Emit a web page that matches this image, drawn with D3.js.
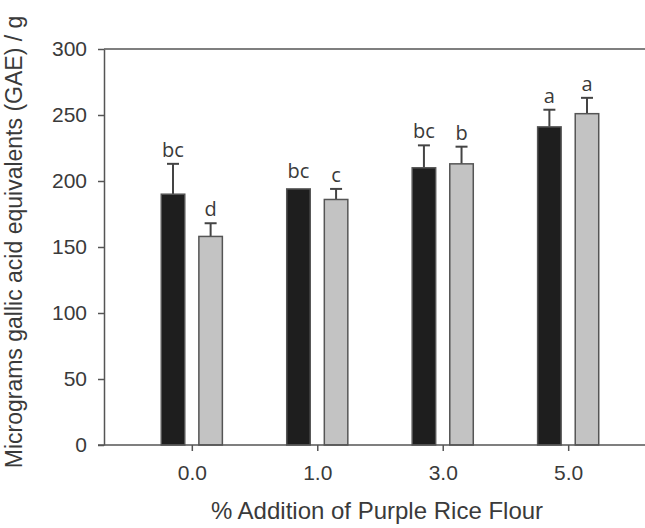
<!DOCTYPE html>
<html>
<head>
<meta charset="utf-8">
<script src="https://cdn.jsdelivr.net/npm/d3@7"></script>
<style>
  body { margin: 0; background: #fff; }
  svg { display: block; }
  text { font-family: "Liberation Sans", Arial, sans-serif; fill: #3a3a3a; }
  .sig { font-family: "Open Sans", sans-serif; }
</style>
</head>
<body>
<svg width="645" height="528"></svg>
<script>
const categories = ['0.0', '1.0', '3.0', '5.0'];
const seriesA = [190, 194, 210, 241];      // black bars
const seriesB = [158, 186, 213, 251];      // grey bars
const errA = [23, 0, 17, 13];
const errB = [10, 8, 13, 12];
const lettersA = ['bc', 'bc', 'bc', 'a'];
const lettersB = ['d', 'c', 'b', 'a'];
const yTicks = [0, 50, 100, 150, 200, 250, 300];

const svg = d3.select('svg');

const x = d3.scalePoint().domain(categories).range([104, 656]).padding(0.7);
const y = d3.scaleLinear().domain([0, 300]).range([445, 49]);

const barW = 23.5, offset = 18.8;

const series = [
  { vals: seriesA, errs: errA, letters: lettersA, fill: '#1e1e1e', dx: -offset },
  { vals: seriesB, errs: errB, letters: lettersB, fill: '#c3c3c3', dx: offset }
];

// frame: top line
svg.append('line')
  .attr('x1', 104).attr('x2', 645).attr('y1', y(300)).attr('y2', y(300))
  .attr('stroke', '#555').attr('stroke-width', 1.5);

series.forEach(s => {
  const g = svg.append('g');
  const rows = categories.map((c, i) => ({ c, v: s.vals[i], e: s.errs[i], l: s.letters[i] }));

  // error bars (upper only)
  g.selectAll('.err').data(rows.filter(d => d.e > 0)).enter()
    .append('line').classed('err', true)
    .attr('x1', d => x(d.c) + s.dx).attr('x2', d => x(d.c) + s.dx)
    .attr('y1', d => y(d.v)).attr('y2', d => y(d.v + d.e))
    .attr('stroke', '#444').attr('stroke-width', 2);
  g.selectAll('.cap').data(rows.filter(d => d.e > 0)).enter()
    .append('line').classed('cap', true)
    .attr('x1', d => x(d.c) + s.dx - 6).attr('x2', d => x(d.c) + s.dx + 6)
    .attr('y1', d => y(d.v + d.e)).attr('y2', d => y(d.v + d.e))
    .attr('stroke', '#444').attr('stroke-width', 2);

  g.selectAll('.bar').data(rows).enter()
    .append('rect').classed('bar', true)
    .attr('x', d => x(d.c) + s.dx - barW / 2)
    .attr('width', barW)
    .attr('y', d => y(d.v))
    .attr('height', d => y(0) - y(d.v))
    .attr('fill', s.fill)
    .attr('stroke', '#555').attr('stroke-width', 1.5);

  g.selectAll('.sig').data(rows).enter()
    .append('text').classed('sig', true)
    .attr('x', d => x(d.c) + s.dx)
    .attr('y', d => y(d.v + d.e) - (d.e > 0 ? 7 : 11))
    .attr('text-anchor', 'middle')
    .attr('font-size', 20)
    .text(d => d.l);
});

// y axis
const yAxis = svg.append('g')
  .attr('transform', 'translate(104,0)')
  .call(d3.axisLeft(y).tickValues(yTicks).tickSize(6).tickPadding(11).tickSizeOuter(0));
yAxis.select('.domain').attr('stroke', '#555').attr('stroke-width', 1.5);
yAxis.selectAll('.tick line').attr('stroke', '#555').attr('stroke-width', 1.5);
yAxis.selectAll('.tick text').attr('font-size', 21).attr('fill', '#3a3a3a')
  .style('font-family', '"Liberation Sans", Arial, sans-serif');

// x axis
const xAxis = svg.append('g')
  .attr('transform', `translate(0,${y(0)})`)
  .call(d3.axisBottom(x).tickSize(6).tickPadding(14).tickSizeOuter(0));
xAxis.select('.domain').attr('d', 'M98,0H645').attr('stroke', '#555').attr('stroke-width', 1.5);
xAxis.selectAll('.tick line').attr('stroke', '#555').attr('stroke-width', 1.5);
xAxis.selectAll('.tick text').attr('font-size', 21).attr('fill', '#3a3a3a')
  .style('font-family', '"Liberation Sans", Arial, sans-serif');

// titles
svg.append('text')
  .attr('x', 377).attr('y', 519)
  .attr('text-anchor', 'middle')
  .attr('font-size', 24)
  .text('% Addition of Purple Rice Flour');

svg.append('text')
  .attr('transform', 'translate(22,242) rotate(-90)')
  .attr('text-anchor', 'middle')
  .attr('font-size', 23)
  .text('Micrograms gallic acid equivalents (GAE) / g');
</script>
</body>
</html>
